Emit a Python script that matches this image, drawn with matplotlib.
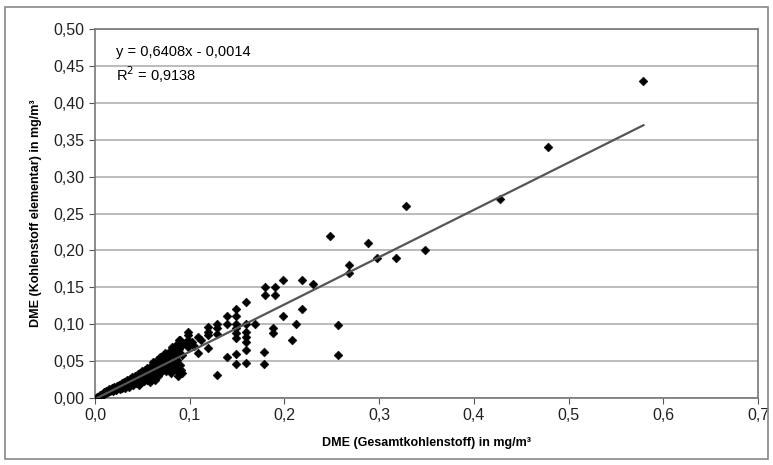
"""Scatter: DME elementary carbon vs. total carbon, with linear trendline."""
import matplotlib

matplotlib.use("Agg")
import matplotlib.pyplot as plt  # noqa: E402
from matplotlib.patches import Rectangle  # noqa: E402
from matplotlib.ticker import FuncFormatter, MultipleLocator  # noqa: E402

plt.rcParams["font.family"] = ["Liberation Sans", "DejaVu Sans"]

# dense cluster near origin
x_cluster = [0.002, 0.004, 0.005, 0.006, 0.008, 0.008, 0.010, 0.010, 0.012, 0.012,
             0.014, 0.014, 0.015, 0.016, 0.017, 0.018, 0.019, 0.020, 0.020, 0.021,
             0.022, 0.023, 0.024, 0.025, 0.025, 0.026, 0.027, 0.028, 0.028, 0.030,
             0.030, 0.031, 0.032, 0.033, 0.034, 0.034, 0.035, 0.036, 0.037, 0.037,
             0.038, 0.039, 0.040, 0.040, 0.041, 0.042, 0.043, 0.044, 0.045, 0.045,
             0.046, 0.047, 0.048, 0.048, 0.049, 0.050, 0.050, 0.051, 0.052, 0.053,
             0.053, 0.054, 0.055, 0.055, 0.056, 0.057, 0.058, 0.058, 0.059, 0.060,
             0.060, 0.061, 0.061, 0.062, 0.063, 0.063, 0.064, 0.065, 0.065, 0.066,
             0.067, 0.068, 0.068, 0.069, 0.070, 0.070, 0.071, 0.072, 0.072, 0.073,
             0.074, 0.074, 0.075, 0.076, 0.077, 0.078, 0.078, 0.079, 0.080, 0.080,
             0.081, 0.082, 0.082, 0.083, 0.084, 0.085, 0.085, 0.086, 0.087, 0.088,
             0.088, 0.089, 0.089, 0.090, 0.090, 0.090, 0.091, 0.092, 0.092, 0.090]
y_cluster = [0.001, 0.002, 0.004, 0.003, 0.005, 0.006, 0.006, 0.008, 0.007, 0.009,
             0.008, 0.010, 0.012, 0.009, 0.011, 0.013, 0.010, 0.012, 0.015, 0.014,
             0.011, 0.016, 0.013, 0.018, 0.015, 0.012, 0.017, 0.020, 0.014, 0.019,
             0.016, 0.022, 0.013, 0.020, 0.024, 0.017, 0.021, 0.015, 0.026, 0.023,
             0.019, 0.028, 0.022, 0.017, 0.025, 0.030, 0.020, 0.027, 0.032, 0.023,
             0.018, 0.029, 0.034, 0.025, 0.021, 0.031, 0.036, 0.027, 0.023, 0.038,
             0.033, 0.029, 0.040, 0.025, 0.035, 0.031, 0.042, 0.022, 0.037, 0.044,
             0.028, 0.049, 0.033, 0.040, 0.046, 0.025, 0.036, 0.051, 0.034, 0.043,
             0.030, 0.048, 0.039, 0.056, 0.045, 0.035, 0.052, 0.038, 0.042, 0.058,
             0.061, 0.048, 0.036, 0.055, 0.044, 0.063, 0.050, 0.040, 0.060, 0.034,
             0.069, 0.047, 0.038, 0.065, 0.056, 0.072, 0.043, 0.061, 0.052, 0.035,
             0.030, 0.079, 0.066, 0.073, 0.069, 0.045, 0.038, 0.034, 0.058, 0.079]

# scattered points beyond the cluster
x_spread = [0.098, 0.098, 0.098, 0.098, 0.109, 0.109, 0.119, 0.119, 0.119, 0.119,
            0.129, 0.129, 0.129, 0.129, 0.139, 0.139, 0.139, 0.149, 0.149, 0.149,
            0.149, 0.149, 0.149, 0.149, 0.149, 0.159, 0.159, 0.159, 0.159, 0.159,
            0.159, 0.159, 0.169, 0.178, 0.178, 0.180, 0.190, 0.180, 0.190, 0.188,
            0.188, 0.199, 0.199, 0.208, 0.212, 0.219, 0.219, 0.230, 0.248, 0.257,
            0.257, 0.268, 0.268, 0.288, 0.298, 0.318, 0.328, 0.348, 0.428, 0.478,
            0.579, 0.095, 0.102, 0.105, 0.112]
y_spread = [0.089, 0.085, 0.079, 0.069, 0.083, 0.061, 0.096, 0.089, 0.085, 0.068,
            0.095, 0.087, 0.100, 0.031, 0.111, 0.100, 0.056, 0.120, 0.111, 0.100,
            0.095, 0.088, 0.081, 0.060, 0.046, 0.130, 0.100, 0.089, 0.083, 0.076,
            0.065, 0.047, 0.100, 0.062, 0.046, 0.150, 0.150, 0.140, 0.140, 0.095,
            0.088, 0.160, 0.111, 0.079, 0.100, 0.160, 0.120, 0.155, 0.220, 0.099,
            0.058, 0.180, 0.170, 0.210, 0.190, 0.190, 0.260, 0.200, 0.270, 0.340,
            0.430, 0.074, 0.076, 0.070, 0.079]

SLOPE, INTERCEPT = 0.6408, -0.0014
R2 = 0.9138

xs = x_cluster + x_spread
ys = y_cluster + y_spread

fig = plt.figure(figsize=(7.73, 4.65), dpi=100)
ax = fig.add_axes([0.1229, 0.1441, 0.8577, 0.7935])

ax.scatter(xs, ys, marker="D", s=20, c="black", edgecolors="black", linewidths=0.4, zorder=3)
x0, x1 = min(xs), max(xs)
ax.plot([x0, x1], [SLOPE * x0 + INTERCEPT, SLOPE * x1 + INTERCEPT], c="#555555", lw=1.6, zorder=4)

ax.set_xlim(0, 0.7); ax.set_ylim(0, 0.5)
ax.xaxis.set_major_locator(MultipleLocator(0.1))
ax.yaxis.set_major_locator(MultipleLocator(0.05))
ax.xaxis.set_major_formatter(FuncFormatter(lambda v, p: f"{v:.1f}".replace(".", ",")))
ax.yaxis.set_major_formatter(FuncFormatter(lambda v, p: f"{v:.2f}".replace(".", ",")))
ax.tick_params(labelsize=11.5, length=4, width=0.8, color="#555555", direction="out",
               labelcolor="#222222")
ax.grid(axis="y", color="#aaaaaa", lw=1.1)
ax.set_axisbelow(True)
for s in ax.spines.values():
    s.set_color("#777777"); s.set_linewidth(1.2)

ax.set_xlabel("DME (Gesamtkohlenstoff) in mg/m³", fontsize=9, fontweight="bold", labelpad=10)
ax.set_ylabel("DME (Kohlenstoff elementar) in mg/m³", fontsize=9, fontweight="bold", labelpad=8)

ax.text(0.031, 0.938, "y = 0,6408x - 0,0014", transform=ax.transAxes, fontsize=10.5, va="center")
ax.text(0.031, 0.876, f"R$^2$ = {R2:.4f}".replace(".", ","), transform=ax.transAxes, fontsize=10.5, va="center")

fig.patches.append(Rectangle((0.006, 0.012), 0.988, 0.972, transform=fig.transFigure,
                             fill=False, ec="#888888", lw=1.2))

fig.savefig("out.png", dpi=100)
